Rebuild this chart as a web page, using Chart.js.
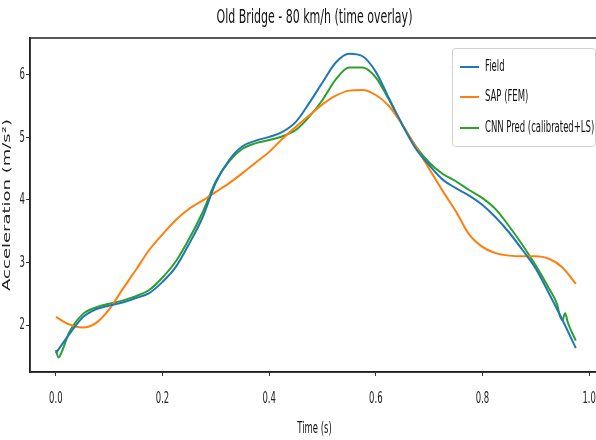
<!DOCTYPE html>
<html>
<head>
<meta charset="utf-8">
<script src="https://cdn.jsdelivr.net/npm/chart.js@4.4.0/dist/chart.umd.min.js"></script>
<style>
  html, body { margin: 0; padding: 0; background: #fff; overflow: hidden; width: 596px; height: 440px; }
  canvas { display: block; }
</style>
</head>
<body>
<canvas id="myChart" width="610" height="440"></canvas>
<script>
let seriesNames = ["Field", "SAP (FEM)", "CNN Pred (calibrated+LS)"];
let colors = ['#1f77b4', '#ff7f0e', '#2ca02c'];

let times = [0, 0.025, 0.05, 0.075, 0.1, 0.125, 0.15, 0.175, 0.2, 0.225, 0.25, 0.275, 0.3, 0.325,
    0.35, 0.375, 0.4, 0.425, 0.45, 0.475, 0.5, 0.525, 0.55, 0.575, 0.6, 0.625, 0.65, 0.675,
    0.7, 0.725, 0.75, 0.775, 0.8, 0.825, 0.85, 0.875, 0.9, 0.925, 0.95, 0.975];

let field = [1.55, 1.85, 2.12, 2.25, 2.31, 2.36, 2.43, 2.51, 2.69, 2.93, 3.3, 3.72, 4.28, 4.64,
    4.86, 4.95, 5.01, 5.09, 5.25, 5.55, 5.88, 6.2, 6.34, 6.3, 6.05, 5.62, 5.2, 4.82,
    4.56, 4.33, 4.19, 4.07, 3.92, 3.72, 3.48, 3.2, 2.9, 2.5, 2.08, 1.63];

let sap = [2.13, 2.01, 1.96, 2.03, 2.25, 2.57, 2.88, 3.2, 3.45, 3.68, 3.86, 3.99, 4.13, 4.27,
    4.43, 4.6, 4.77, 4.98, 5.17, 5.35, 5.53, 5.67, 5.75, 5.76, 5.68, 5.5, 5.2, 4.85,
    4.5, 4.15, 3.82, 3.45, 3.25, 3.15, 3.11, 3.1, 3.1, 3.06, 2.92, 2.66];

let cnnTimes = [0, 0.005, 0.01, 0.025, 0.05, 0.075, 0.1, 0.125, 0.15, 0.175, 0.2, 0.225, 0.25, 0.275,
    0.3, 0.325, 0.35, 0.375, 0.4, 0.425, 0.45, 0.475, 0.5, 0.525, 0.55, 0.575, 0.6, 0.625,
    0.65, 0.675, 0.7, 0.725, 0.75, 0.775, 0.8, 0.825, 0.85, 0.875, 0.9, 0.925, 0.94,
    0.945, 0.95, 0.955, 0.96, 0.975];
let cnn = [1.6, 1.48, 1.55, 1.88, 2.17, 2.28, 2.34, 2.39, 2.46, 2.56, 2.76, 3.02, 3.38, 3.8,
    4.3, 4.62, 4.82, 4.91, 4.96, 5.02, 5.12, 5.33, 5.6, 5.93, 6.12, 6.12, 5.96, 5.6,
    5.2, 4.86, 4.6, 4.42, 4.3, 4.16, 4.03, 3.85, 3.58, 3.28, 2.95, 2.58, 2.33,
    2.15, 2.08, 2.19, 2.04, 1.75];

let yTicks = [2, 3, 4, 5, 6];
let xTicks = [0, 0.2, 0.4, 0.6, 0.8, 1.0];

let font = "'DejaVu Sans', sans-serif";

function pairs(xs, ys) {
    return xs.map((x, i) => ({ x: x, y: ys[i] }));
}

let myChart = document.getElementById("myChart").getContext('2d');

// the reference picture is squeezed sideways, so text is drawn narrower (by font size)
let squeeze = { 19: 0.58, 18: 0.6, 16: 0.53 };
function squeezeFor(ctx) {
    let m = ctx.font.match(/(\d+(?:\.\d+)?)px/);
    return m ? (squeeze[Math.round(m[1])] || 1) : 1;
}
let baseFillText = myChart.fillText;
let baseMeasureText = myChart.measureText;
myChart.fillText = function (text, x, y) {
    let sx = squeezeFor(this);
    let rotated = Math.abs(this.getTransform().b) > 0.5;
    this.save();
    this.translate(x, y);
    if (rotated) this.scale(1, sx); else this.scale(sx, 1);
    baseFillText.call(this, text, 0, 0);
    this.restore();
};
myChart.measureText = function (text) {
    let m = baseMeasureText.call(this, text);
    return { width: m.width * squeezeFor(this) };
};

// frame (top spine) and legend box inside the plot
let framePlugin = {
    id: 'framePlugin',
    afterDatasetsDraw(chart) {
        let ctx = chart.ctx;
        let a = chart.chartArea;
        ctx.save();
        ctx.strokeStyle = '#222';
        ctx.lineWidth = 1.5;
        ctx.strokeRect(a.left, a.top, a.right - a.left, a.bottom - a.top);

        // legend
        let bx = 452, by = 48, bw = 143, bh = 98;
        ctx.fillStyle = 'rgba(255,255,255,0.85)';
        ctx.strokeStyle = '#d0d0d0';
        ctx.lineWidth = 1;
        ctx.beginPath();
        ctx.roundRect(bx + 0.5, by + 0.5, bw, bh, 3);
        ctx.fill();
        ctx.stroke();
        ctx.font = '16px ' + font;
        ctx.textBaseline = 'middle';
        ctx.textAlign = 'left';
        let rows = [67, 97, 128];
        chart.data.datasets.forEach((ds, i) => {
            ctx.strokeStyle = ds.borderColor;
            ctx.lineWidth = 2;
            ctx.beginPath();
            ctx.moveTo(460, rows[i]);
            ctx.lineTo(479, rows[i]);
            ctx.stroke();
            ctx.fillStyle = '#111';
            ctx.fillText(ds.label, 485, rows[i]);
        });
        ctx.restore();
    }
};

let chart1 = new Chart(myChart, {
    type: 'line',
    data: {
        datasets: [{
                label: seriesNames[0],
                data: pairs(times, field),
                borderColor: colors[0],
                borderWidth: 2,
                pointRadius: 0,
                fill: false,
                cubicInterpolationMode: 'monotone'
            },
            {
                label: seriesNames[1],
                data: pairs(times, sap),
                borderColor: colors[1],
                borderWidth: 2,
                pointRadius: 0,
                fill: false,
                cubicInterpolationMode: 'monotone'
            },
            {
                label: seriesNames[2],
                data: pairs(cnnTimes, cnn),
                borderColor: colors[2],
                borderWidth: 2,
                pointRadius: 0,
                fill: false,
                cubicInterpolationMode: 'monotone'
            }
        ]
    },
    options: {
        responsive: false,
        animation: false,
        devicePixelRatio: 1,
        layout: {
            padding: { left: 0, right: 11, top: 0, bottom: 0 }
        },
        plugins: {
            legend: { display: false },
            tooltip: { enabled: false },
            title: {
                display: true,
                fullSize: false,
                text: "Old Bridge - 80 km/h (time overlay)",
                color: '#111',
                font: { family: font, size: 19, weight: 'normal', lineHeight: 1.0 },
                padding: { top: 9, bottom: 10 }
            }
        },
        scales: {
            x: {
                type: 'linear',
                min: -0.0485,
                max: 1.0185,
                afterBuildTicks: s => { s.ticks = xTicks.map(v => ({ value: v })); },
                afterFit: s => { s.height = 68; s.paddingLeft = 0; s.paddingRight = 0; },
                grid: { display: true, drawOnChartArea: false, drawTicks: true, tickLength: 4, color: '#333' },
                border: { display: true, color: '#222', width: 1.5 },
                ticks: {
                    color: '#222',
                    padding: 13,
                    maxRotation: 0,
                    autoSkip: false,
                    font: { family: font, size: 16 },
                    callback: v => v.toFixed(1)
                },
                title: {
                    display: true,
                    text: "Time (s)",
                    color: '#111',
                    font: { family: font, size: 16 },
                    padding: { top: 0, bottom: 2 }
                }
            },
            y: {
                type: 'linear',
                min: 1.248,
                max: 6.592,
                afterBuildTicks: s => { s.ticks = yTicks.map(v => ({ value: v })); },
                afterFit: s => { s.width = 30; s.paddingTop = 0; s.paddingBottom = 0; },
                grid: { display: true, drawOnChartArea: false, drawTicks: true, tickLength: 4, color: '#333' },
                border: { display: true, color: '#222', width: 1.5 },
                ticks: {
                    color: '#222',
                    padding: 1,
                    font: { family: font, size: 16 },
                    callback: v => String(v)
                },
                title: {
                    display: true,
                    text: "Acceleration (m/s²)",
                    color: '#222',
                    font: { family: font, size: 18, lineHeight: 0.85 },
                    padding: { top: 0, bottom: 0 }
                }
            }
        }
    },
    plugins: [framePlugin]
});
</script>
</body>
</html>
